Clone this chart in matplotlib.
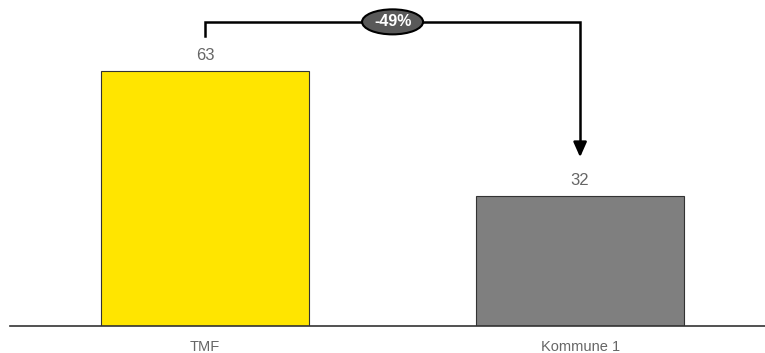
import matplotlib.pyplot as plt
from matplotlib.patches import Ellipse

plt.rcParams['font.family'] = ['Liberation Sans', 'DejaVu Sans']

# data
categories = ['TMF', 'Kommune 1']
values = [63, 32]
colors = ['#FFE500', '#7F7F7F']
change_label = '-49%'

fig = plt.figure(figsize=(7.65, 3.53), dpi=100)
ax = fig.add_axes([10 / 765, 27 / 353, 755 / 765, 326 / 353])

x = range(len(categories))
bars = ax.bar(x, values, width=0.555, color=colors, edgecolor='#333333', linewidth=0.8, zorder=2)

for xi, v in zip(x, values):
    ax.text(xi, v + 2.0, str(v), ha='center', va='bottom', fontsize=12, color='#666666')

ax.set_xlim(-0.52, 1.493)
ax.set_ylim(0, 80.5)
ax.set_xticks(list(x))
ax.set_xticklabels(categories, fontsize=10.5, color='#666666')
ax.tick_params(axis='x', length=0, pad=10)
ax.set_yticks([])
for s in ['top', 'left', 'right']:
    ax.spines[s].set_visible(False)
ax.spines['bottom'].set_color('#333333')
ax.spines['bottom'].set_linewidth(1.2)

# bracket arrow between bars
y_top = 75.1
y_start = values[0] + 8.6
y_tip = values[1] + 9.0
ax.plot([0, 0, 1, 1], [y_start, y_top, y_top, y_tip + 3], color='black', lw=1.8,
        solid_joinstyle='miter', zorder=3)
ax.annotate('', xy=(1, y_tip), xytext=(1, y_tip + 3.5),
            arrowprops=dict(arrowstyle='-|>,head_length=0.9,head_width=0.4',
                            color='black', lw=1.8), zorder=3)

mid = 0.5
ell = Ellipse((mid, y_top), width=61 / 375, height=25 / 4.05,
              facecolor='#595959', edgecolor='black', lw=1.5, zorder=4)
ax.add_patch(ell)
ax.text(mid, y_top, change_label, ha='center', va='center', fontsize=11.5,
        fontweight='bold', color='white', zorder=5)

fig.savefig('out.png', dpi=100)
